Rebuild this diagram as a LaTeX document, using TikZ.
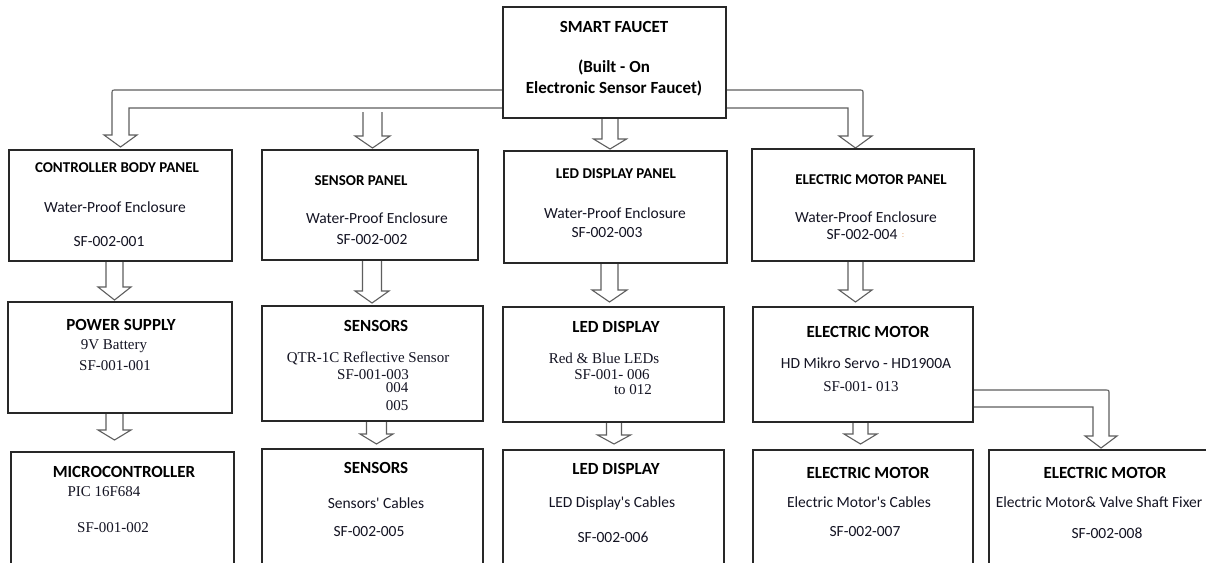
\documentclass[tikz,border=0pt]{standalone}
\usepackage{fontspec}
\setmainfont{Carlito}
\newfontfamily\tms{Liberation Serif}
\usetikzlibrary{calc}
\definecolor{ink}{RGB}{20,20,35}
\definecolor{arr}{RGB}{95,95,95}
\definecolor{frm}{RGB}{40,40,40}
\definecolor{orng}{RGB}{230,170,120}
\tikzset{
 boxn/.style={draw=frm, line width=1.1pt, fill=none, inner sep=0, outer sep=0},
 harrow/.style={draw=arr, line width=1.1pt, fill=white, line join=miter},
 t/.style={inner sep=0, text=ink, font=\fontsize{15.5}{18}\selectfont},
 tt/.style={inner sep=0, text=ink, font=\fontsize{15}{18}\selectfont\tms},
 hb/.style={inner sep=0, text=black, font=\fontsize{17}{20}\selectfont\bfseries},
 hs/.style={inner sep=0, text=black, font=\fontsize{15}{18}\selectfont\bfseries},
}
\newcommand\boxn[5]{\node[boxn, minimum width={(#4-#2)*1pt}, minimum height={(#5-#3)*1pt}] (#1) at ({(#2+#4)/2},{(#3+#5)/2}) {};}
\newcommand\hdown[7]{\draw[harrow] let \p1=(#1), \p2=(#2) in
 (#3pt-#4pt,\y1) -- (#3pt-#4pt,\y2+#7pt+#6pt) -- (#3pt-#5pt,\y2+#7pt+#6pt) -- (#3pt,\y2+#7pt) -- (#3pt+#5pt,\y2+#7pt+#6pt) -- (#3pt+#4pt,\y2+#7pt+#6pt) -- (#3pt+#4pt,\y1);}
\begin{document}
\begin{tikzpicture}[x=1pt,y=-1pt]
\useasboundingbox (0,0) rectangle (1206,562);
\clip (0,0) rectangle (1206,562);
\fill[white] (0,0) rectangle (1206,562);
% boxes
\boxn{top}{503}{7}{726}{118}
\boxn{cbp}{9}{150}{232}{261}
\boxn{spn}{262}{150}{478}{260}
\boxn{ldp}{504}{151}{727}{263}
\boxn{emp}{752}{149}{974}{261}
\boxn{ps}{8}{302}{232}{413}
\boxn{sen}{262}{306}{483}{421}
\boxn{led}{503}{307}{724}{422}
\boxn{em}{753}{307}{973}{422}
\boxn{mc}{11}{452}{234}{600}
\boxn{sc}{262}{449}{483}{600}
\boxn{lc}{503}{450}{724}{600}
\boxn{ec}{753}{450}{973}{600}
\boxn{fx}{989}{450}{1215}{600}
% helper coordinates
\coordinate (ya) at (0,90);
\coordinate (yb) at (0,108);
\coordinate (yc) at (0,390);
\coordinate (yd) at (0,407);
\coordinate (sbar) at (372.5,112);
% branching bars
\draw[harrow] (top.west |- yb) -- (129,108) -- (129,135) -- (137,135) -- (120.5,147) -- (104,135) -- (112,135) -- (112,94) .. controls (112,90) .. (116,90) -- (top.west |- ya);
\draw[harrow] (top.east |- ya) -- (859,90) .. controls (863,90) .. (863,94) -- (863,136) -- (872,136) -- (855.5,148) -- (839,136) -- (848,136) -- (848,108) -- (top.east |- yb);
\draw[harrow] (em.east |- yc) -- (1105,390) .. controls (1109,390) .. (1109,394) -- (1109,436) -- (1117,436) -- (1101,448) -- (1085,436) -- (1093,436) -- (1093,407) -- (em.east |- yd);
% straight arrows
\hdown{sbar}{spn.north}{372.5}{9.5}{17.5}{12}{2}
\hdown{top.south}{ldp.north}{610}{8}{16.5}{10}{2}
\hdown{cbp.south}{ps.north}{114.5}{8.5}{16.5}{13}{2}
\hdown{ps.south}{mc.north}{114.5}{8.5}{16.5}{10}{12}
\hdown{spn.south}{sen.north}{372}{9.5}{17}{12}{3}
\hdown{sen.south}{sc.north}{376.5}{10}{16.5}{10}{5}
\hdown{ldp.south}{led.north}{609.5}{8.5}{17.5}{12}{5}
\hdown{led.south}{lc.north}{614}{7.5}{16.5}{9}{6}
\hdown{emp.south}{em.north}{855.5}{7.5}{16.5}{12}{5}
\hdown{em.south}{ec.north}{860.5}{7.5}{16.5}{10}{6}
% redraw box frames above arrows
\foreach \b in {top,cbp,spn,ldp,emp,ps,sen,led,em,mc,sc,lc,ec,fx}{\draw[draw=frm, line width=1.1pt] (\b.north west) rectangle (\b.south east);}
% texts
\node[hb] (t1) at (614,27) {SMART FAUCET};
\node[hb] (t2) at (614,67) {(Built - On};
\node[hb] (t3) at (614,88) {Electronic Sensor Faucet)};
\node[hs] (a1) at (117,168) {CONTROLLER BODY PANEL};
\node[t] (a2) at (115,207) {Water-Proof Enclosure};
\node[t] (a3) at (109,242) {SF-002-001};
\node[hs] (b1) at (361,181) {SENSOR PANEL};
\node[t] (b2) at (377,218) {Water-Proof Enclosure};
\node[t] (b3) at (372,240) {SF-002-002};
\node[hs] (c1) at (616,174) {LED DISPLAY PANEL};
\node[t] (c2) at (615,213) {Water-Proof Enclosure};
\node[t] (c3) at (607,233) {SF-002-003};
\node[hs] (d1) at (871,180) {ELECTRIC MOTOR PANEL};
\node[t] (d2) at (866,217) {Water-Proof Enclosure};
\node[t] (d3) at (862,235) {SF-002-004};
\node[t, text=orng, font=\fontsize{9}{10}\selectfont] (d4) at (903,236) {:};
\node[hb] (e1) at (121,325) {POWER SUPPLY};
\node[tt] (e2) at (114,346) {9V Battery};
\node[tt] (e3) at (115,366) {SF-001-001};
\node[hb] (f1) at (124,472) {MICROCONTROLLER};
\node[tt] (f2) at (104,492) {PIC 16F684};
\node[tt] (f3) at (113,528) {SF-001-002};
\node[hb] (g1) at (376,326) {SENSORS};
\node[tt] (g2) at (368,358) {QTR-1C Reflective Sensor};
\node[tt] (g3) at (373,375) {SF-001-003};
\node[tt] (g4) at (397,388) {004};
\node[tt] (g5) at (397,406) {005};
\node[hb] (h1) at (376,468) {SENSORS};
\node[t] (h2) at (376,503) {Sensors\textquotesingle{} Cables};
\node[t] (h3) at (369,532) {SF-002-005};
\node[hb] (i1) at (616,327) {LED DISPLAY};
\node[tt] (i2) at (604,358) {Red \& Blue LEDs};
\node[tt] (i3) at (612,375) {SF-001- 006};
\node[tt] (i4) at (633,390) {to 012};
\node[hb] (j1) at (616,469) {LED DISPLAY};
\node[t] (j2) at (612,503) {LED Display\textquotesingle s Cables};
\node[t] (j3) at (613,537) {SF-002-006};
\node[hb] (k1) at (868,332) {ELECTRIC MOTOR};
\node[t] (k2) at (866,363) {HD Mikro Servo - HD1900A};
\node[tt] (k3) at (861,387) {SF-001- 013};
\node[hb] (l1) at (868,473) {ELECTRIC MOTOR};
\node[t] (l2) at (859,502) {Electric Motor\textquotesingle s Cables};
\node[t] (l3) at (865,532) {SF-002-007};
\node[hb] (m1) at (1105,473) {ELECTRIC MOTOR};
\node[t] (m2) at (1099,502) {Electric Motor\& Valve Shaft Fixer};
\node[t] (m3) at (1107,533) {SF-002-008};
\end{tikzpicture}
\end{document}
